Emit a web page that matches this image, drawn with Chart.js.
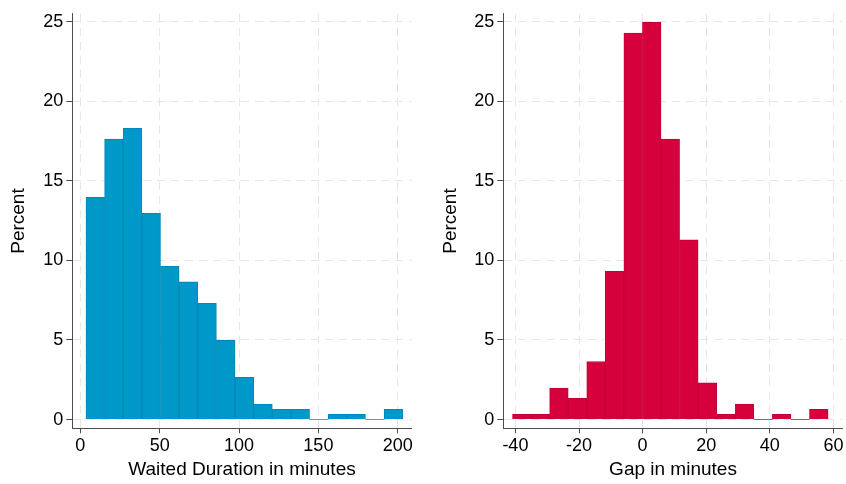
<!DOCTYPE html>
<html>
<head>
<meta charset="utf-8">
<script src="https://cdn.jsdelivr.net/npm/chart.js@4.4.1/dist/chart.umd.min.js"></script>
<style>
  html, body { margin: 0; padding: 0; background: #fff; }
  #wrap { position: relative; width: 846px; height: 484px; }
  .panel { position: absolute; top: 0; width: 423px; height: 484px; }
</style>
</head>
<body>
<div id="wrap">
  <div class="panel" style="left:0"><canvas id="waitChart"></canvas></div>
  <div class="panel" style="left:423px"><canvas id="gapChart"></canvas></div>
</div>
<script>
// Histogram values (percent per bin)
const waitPct = [13.96, 17.63, 18.31, 12.96, 9.63, 8.65, 7.31, 4.98, 2.65, 0.98, 0.65, 0.65, 0, 0.33, 0.33, 0, 0.65];
const gapPct = [0.33, 0.33, 1.98, 1.33, 3.65, 9.31, 24.29, 24.96, 17.63, 11.29, 2.31, 0.33, 0.98, 0, 0.33, 0, 0.65];

// Bin layout: lower edge of first bin and bin width (minutes)
const waitBinStart = 3.57, waitBinWidth = 11.74;
const gapBinStart = -40.9, gapBinWidth = 5.835;

// Tick labels
const waitTicks = [0, 50, 100, 150, 200];
const gapTicks = [-40, -20, 0, 20, 40, 60];
const percentTicks = [0, 5, 10, 15, 20, 25];

Chart.defaults.font.family = '"Liberation Sans", Arial, Helvetica, sans-serif';
Chart.defaults.color = '#000';

const axisColor = '#4d4d4d';
const gridColor = '#e6e6e6';

function binPoints(values, start, width) {
  return values.map((y, i) => ({ x: start + width * (i + 0.5), y }));
}

function histOptions(cfg) {
  return {
    responsive: true,
    maintainAspectRatio: false,
    animation: false,
    layout: { padding: { top: 3.3, right: cfg.padRight, left: 0, bottom: 0 } },
    plugins: { legend: { display: false }, tooltip: { enabled: false } },
    scales: {
      x: {
        type: 'linear',
        min: cfg.xMin,
        max: cfg.xMax,
        offset: false,
        afterBuildTicks: s => { s.ticks = cfg.xTicks.map(v => ({ value: v })); },
        afterFit: s => { s.height = 55.7; },
        grid: { offset: false, color: gridColor, lineWidth: 1, tickColor: axisColor, tickLength: 5, tickWidth: 1 },
        border: { color: axisColor, width: 1, dash: [8, 6] },
        ticks: { font: { size: 18 }, padding: 2, maxRotation: 0 },
        title: { display: true, text: cfg.xTitle, font: { size: 19 }, padding: { top: 0, bottom: 3 } }
      },
      y: {
        min: -0.55,
        max: 25.5,
        afterBuildTicks: s => { s.ticks = percentTicks.map(v => ({ value: v })); },
        afterFit: s => { s.width = cfg.yWidth; },
        grid: { color: gridColor, lineWidth: 1, tickColor: axisColor, tickLength: 6, tickWidth: 1 },
        border: { color: axisColor, width: 1, dash: [8, 6] },
        ticks: { font: { size: 18 }, padding: 3 },
        title: { display: true, text: 'Percent', font: { size: 19 }, padding: { top: cfg.yTitlePad, bottom: 0 } }
      }
    }
  };
}

function histDataset(values, start, width, fill, edge) {
  return {
    data: binPoints(values, start, width),
    backgroundColor: fill,
    borderColor: edge,
    borderWidth: ctx => (ctx.raw && ctx.raw.y > 0 ? 1 : 0),
    barPercentage: 1,
    categoryPercentage: 1
  };
}

new Chart(document.getElementById('waitChart'), {
  type: 'bar',
  data: { datasets: [histDataset(waitPct, waitBinStart, waitBinWidth, '#0097c9', '#0089b8')] },
  options: histOptions({
    xMin: -5.04, xMax: 208.8, xTicks: waitTicks, xTitle: 'Waited Duration in minutes',
    yWidth: 72.3, padRight: 11.3, yTitlePad: 7.6
  })
});

new Chart(document.getElementById('gapChart'), {
  type: 'bar',
  data: { datasets: [histDataset(gapPct, gapBinStart, gapBinWidth, '#d5003c', '#c30036')] },
  options: histOptions({
    xMin: -43.8, xMax: 62.9, xTicks: gapTicks, xTitle: 'Gap in minutes',
    yWidth: 80.3, padRight: 3.3, yTitlePad: 16.1
  })
});
</script>
</body>
</html>
